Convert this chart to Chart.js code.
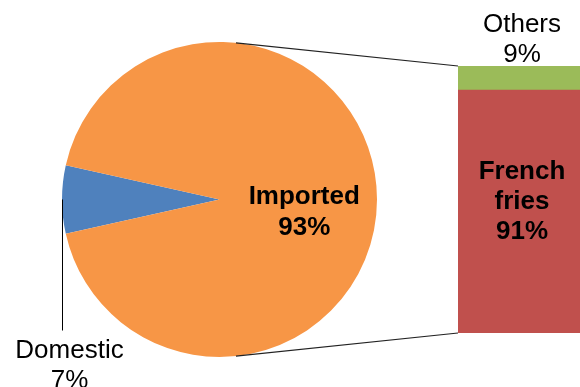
<!DOCTYPE html>
<html>
<head>
<meta charset="utf-8">
<script src="https://cdn.jsdelivr.net/npm/chart.js@4/dist/chart.umd.min.js"></script>
<style>
  html, body { margin: 0; padding: 0; background: #fff; }
  #wrap { position: relative; width: 580px; height: 387px; }
  #wrap canvas { position: absolute; left: 0; top: 0; }
</style>
</head>
<body>
<div id="wrap">
  <canvas id="pie" width="580" height="387"></canvas>
  <canvas id="bar" width="580" height="387"></canvas>
</div>
<script>
// data
const pieLabels = ["Domestic", "Imported"]
const pieValues = [7, 93]
const pieColors = ["#4F81BD", "#F79646"]

const barLabels = ["French fries", "Others"]
const barValues = [91, 9]
const barColors = ["#C0504D", "#9BBB59"]

const FONT = "'Liberation Sans', Arial, sans-serif"

function textLines(ctx, lines, x, y0, step, bold) {
  ctx.save()
  ctx.fillStyle = "#000"
  ctx.font = (bold ? "bold " : "") + "26px " + FONT
  ctx.textAlign = "center"
  ctx.textBaseline = "alphabetic"
  lines.forEach((t, i) => ctx.fillText(t, x, y0 + i * step))
  ctx.restore()
}

const pieText = {
  id: 'pieText',
  afterDraw(chart) {
    const ctx = chart.ctx
    const arcs = chart.getDatasetMeta(0).data
    // Imported label inside the big slice
    const c = arcs[1].getCenterPoint()
    textLines(ctx, [pieLabels[1], pieValues[1] + "%"], c.x + 6, c.y + 4, 31, true)
    // Domestic leader line and label
    const a = arcs[0]
    const lx = a.x - a.outerRadius + 0.5
    ctx.save()
    ctx.strokeStyle = "#000"
    ctx.lineWidth = 1
    ctx.beginPath()
    ctx.moveTo(lx, a.y)
    ctx.lineTo(lx, a.y + 131)
    ctx.stroke()
    ctx.restore()
    textLines(ctx, [pieLabels[0], pieValues[0] + "%"], lx + 7, a.y + 158, 30, false)
  }
}

const pieChart = new Chart(document.getElementById("pie"), {
  type: 'pie',
  data: {
    labels: pieLabels,
    datasets: [{
      data: pieValues,
      backgroundColor: pieColors,
      borderWidth: 0
    }]
  },
  options: {
    responsive: false,
    animation: false,
    rotation: 270 - pieValues[0] * 1.8,
    layout: { padding: { left: 62, right: 203, top: 42, bottom: 30 } },
    plugins: { legend: { display: false }, tooltip: { enabled: false } }
  },
  plugins: [pieText]
})

const barText = {
  id: 'barText',
  afterDraw(chart) {
    const ctx = chart.ctx
    const fries = chart.getDatasetMeta(0).data[0]
    const others = chart.getDatasetMeta(1).data[0]
    const left = fries.x - fries.width / 2
    const cx = fries.x + 3
    // connector lines from pie to bar
    const arc = pieChart.getDatasetMeta(0).data[1]
    const ang = 84 * Math.PI / 180
    const px = arc.x + arc.outerRadius * Math.cos(ang)
    const dy = arc.outerRadius * Math.sin(ang)
    ctx.save()
    ctx.strokeStyle = "#222"
    ctx.lineWidth = 1.2
    ctx.beginPath()
    ctx.moveTo(px, arc.y - dy)
    ctx.lineTo(left, others.y)
    ctx.moveTo(px, arc.y + dy)
    ctx.lineTo(left, fries.base)
    ctx.stroke()
    ctx.restore()
    // labels
    const fc = (fries.y + fries.base) / 2
    textLines(ctx, ["French", "fries", barValues[0] + "%"], cx, fc - 33, 30, true)
    textLines(ctx, [barLabels[1], barValues[1] + "%"], cx, others.y - 34, 30, false)
  }
}

new Chart(document.getElementById("bar"), {
  type: 'bar',
  data: {
    labels: [""],
    datasets: barLabels.map((l, i) => ({
      label: l,
      data: [barValues[i]],
      backgroundColor: barColors[i],
      borderWidth: 0,
      barPercentage: 1,
      categoryPercentage: 1
    }))
  },
  options: {
    responsive: false,
    animation: false,
    layout: { padding: { left: 458, right: 0, top: 66, bottom: 54 } },
    scales: {
      x: { display: false, stacked: true },
      y: { display: false, stacked: true, min: 0, max: 100 }
    },
    plugins: { legend: { display: false }, tooltip: { enabled: false } }
  },
  plugins: [barText]
})
</script>
</body>
</html>
